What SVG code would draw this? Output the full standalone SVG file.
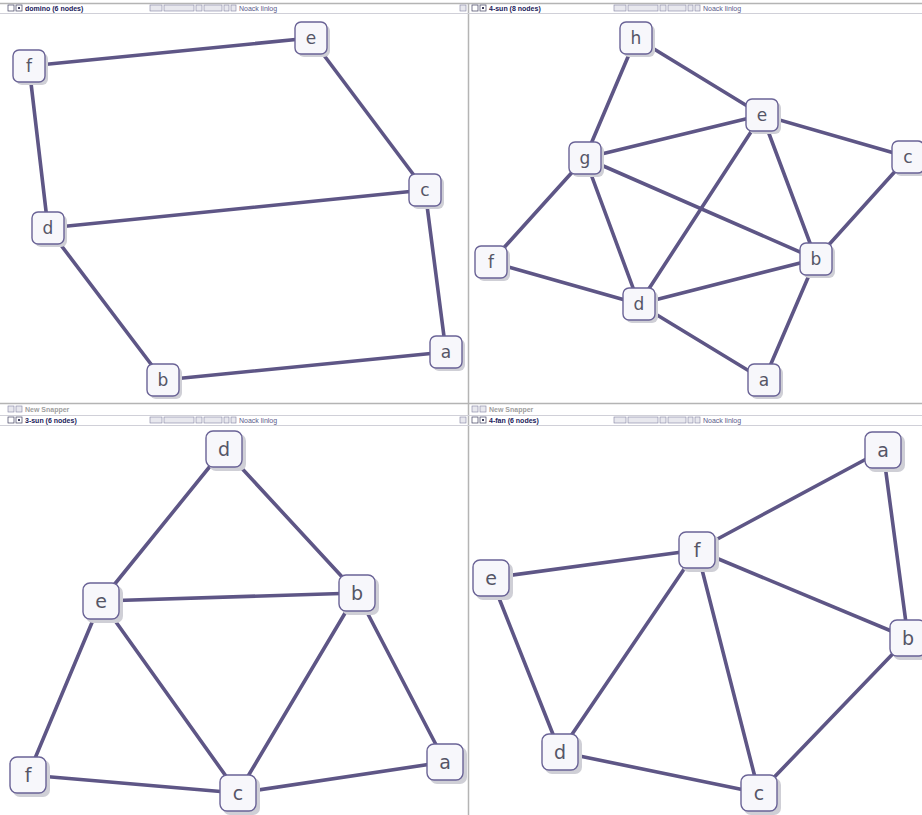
<svg xmlns="http://www.w3.org/2000/svg" width="922" height="815" viewBox="0 0 922 815">
<defs>
<style>
.bg{fill:#ffffff}
.sep{stroke:#b4b4b4;stroke-width:1.5;fill:none}
.title{font-family:"Liberation Sans",Arial,sans-serif;font-size:7px;font-weight:bold;fill:#1a1a5a}
.algo{font-family:"Liberation Sans",Arial,sans-serif;font-size:7px;fill:#5a5a8a}
.snap{font-family:"Liberation Sans",Arial,sans-serif;font-size:7px;font-weight:bold;fill:#a0a0a0}
.btn{fill:#e8e8ee;stroke:#8080a0;stroke-width:0.6}
.chk{fill:#ffffff;stroke:#404060;stroke-width:0.7}
.e{stroke:#5e5686;stroke-width:3.6;stroke-linecap:round;fill:none}
.sh{fill:#cfcfd6}
.nd{fill:#f7f7fb;stroke:#6a6396;stroke-width:1.4}
.lb{font-family:"DejaVu Sans","Liberation Sans",sans-serif;font-size:17px;fill:#555566;text-anchor:middle;dominant-baseline:central}
.lb2{font-family:"DejaVu Sans","Liberation Sans",sans-serif;font-size:19px;fill:#555566;text-anchor:middle;dominant-baseline:central}
</style>
<g id="n32">
<rect class="sh" x="-13" y="-13" width="32" height="32" rx="6"/>
<rect class="nd" x="-16" y="-16" width="32" height="32" rx="6"/>
</g>
<g id="n36">
<rect class="sh" x="-15" y="-15" width="37" height="37" rx="7"/>
<rect class="nd" x="-18" y="-18" width="36" height="36" rx="7"/>
</g>
</defs>
<rect class="bg" x="0" y="0" width="922" height="815"/>

<g id="chrome">
<line class="sep" x1="0" y1="3.5" x2="922" y2="3.5"/>
<line class="sep" x1="468.5" y1="3" x2="468.5" y2="815"/>
<line class="sep" x1="0" y1="403.5" x2="922" y2="403.5"/>
<line x1="0" y1="13.5" x2="922" y2="13.5" stroke="#d0d0d8" stroke-width="1"/>
<line x1="0" y1="425.5" x2="922" y2="425.5" stroke="#d0d0d8" stroke-width="1"/>
<line x1="0" y1="415.5" x2="922" y2="415.5" stroke="#d0d0d8" stroke-width="1"/>
<rect class="chk" x="8" y="5" width="6" height="6"/><rect class="chk" x="16" y="5" width="6" height="6"/><rect x="18" y="7" width="2" height="2" fill="#404060"/>
<text class="title" x="25" y="10.5">domino  (6 nodes)</text>
<rect class="btn" x="150" y="5" width="12" height="6"/><rect class="btn" x="164" y="5" width="30" height="6"/><rect class="btn" x="196" y="5" width="6" height="6"/><rect class="btn" x="204" y="5" width="18" height="6"/><rect class="btn" x="224" y="5" width="5" height="6" fill="#f4f4f4" stroke="#d0d0d0"/><rect class="btn" x="231" y="5" width="5" height="6" fill="#f4f4f4" stroke="#d0d0d0"/>
<text class="algo" x="239" y="10.5">Noack linlog</text>
<rect class="btn" x="460" y="5" width="6" height="6"/>
<rect class="chk" x="472" y="5" width="6" height="6"/><rect class="chk" x="480" y="5" width="6" height="6"/><rect x="482" y="7" width="2" height="2" fill="#404060"/>
<text class="title" x="489" y="10.5">4-sun  (8 nodes)</text>
<rect class="btn" x="614" y="5" width="12" height="6"/><rect class="btn" x="628" y="5" width="30" height="6"/><rect class="btn" x="660" y="5" width="6" height="6"/><rect class="btn" x="668" y="5" width="18" height="6"/><rect class="btn" x="688" y="5" width="5" height="6" fill="#f4f4f4" stroke="#d0d0d0"/><rect class="btn" x="695" y="5" width="5" height="6" fill="#f4f4f4" stroke="#d0d0d0"/>
<text class="algo" x="703" y="10.5">Noack linlog</text>
<rect class="btn" x="8" y="406" width="6" height="6" fill="#f4f4f4" stroke="#b0b0b0"/><rect class="btn" x="16" y="406" width="6" height="6" fill="#f4f4f4" stroke="#b0b0b0"/>
<text class="snap" x="25" y="411.5">New Snapper</text>
<rect class="btn" x="472" y="406" width="6" height="6" fill="#f4f4f4" stroke="#b0b0b0"/><rect class="btn" x="480" y="406" width="6" height="6" fill="#f4f4f4" stroke="#b0b0b0"/>
<text class="snap" x="489" y="411.5">New Snapper</text>
<rect class="chk" x="8" y="417" width="6" height="6"/><rect class="chk" x="16" y="417" width="6" height="6"/><rect x="18" y="419" width="2" height="2" fill="#404060"/>
<text class="title" x="25" y="422.5">3-sun  (6 nodes)</text>
<rect class="btn" x="150" y="417" width="12" height="6"/><rect class="btn" x="164" y="417" width="30" height="6"/><rect class="btn" x="196" y="417" width="6" height="6"/><rect class="btn" x="204" y="417" width="18" height="6"/><rect class="btn" x="224" y="417" width="5" height="6" fill="#f4f4f4" stroke="#d0d0d0"/><rect class="btn" x="231" y="417" width="5" height="6" fill="#f4f4f4" stroke="#d0d0d0"/>
<text class="algo" x="239" y="422.5">Noack linlog</text>
<rect class="btn" x="460" y="417" width="6" height="6"/>
<rect class="chk" x="472" y="417" width="6" height="6"/><rect class="chk" x="480" y="417" width="6" height="6"/><rect x="482" y="419" width="2" height="2" fill="#404060"/>
<text class="title" x="489" y="422.5">4-fan  (6 nodes)</text>
<rect class="btn" x="614" y="417" width="12" height="6"/><rect class="btn" x="628" y="417" width="30" height="6"/><rect class="btn" x="660" y="417" width="6" height="6"/><rect class="btn" x="668" y="417" width="18" height="6"/><rect class="btn" x="688" y="417" width="5" height="6" fill="#f4f4f4" stroke="#d0d0d0"/><rect class="btn" x="695" y="417" width="5" height="6" fill="#f4f4f4" stroke="#d0d0d0"/>
<text class="algo" x="703" y="422.5">Noack linlog</text>
</g>

<g id="connectors">
<line class="e" x1="29" y1="66" x2="311" y2="38" stroke-width="4.2"/>
<line class="e" x1="311" y1="38" x2="425" y2="190"/>
<line class="e" x1="29" y1="66" x2="48" y2="228"/>
<line class="e" x1="48" y1="228" x2="425" y2="190" stroke-width="4.2"/>
<line class="e" x1="48" y1="228" x2="163" y2="380"/>
<line class="e" x1="425" y1="190" x2="446" y2="352"/>
<line class="e" x1="163" y1="380" x2="446" y2="352" stroke-width="4.2"/>
<line class="e" x1="636" y1="38" x2="585" y2="158"/>
<line class="e" x1="636" y1="38" x2="762" y2="115"/>
<line class="e" x1="585" y1="158" x2="762" y2="115"/>
<line class="e" x1="762" y1="115" x2="908" y2="157"/>
<line class="e" x1="585" y1="158" x2="491" y2="262"/>
<line class="e" x1="585" y1="158" x2="816" y2="259"/>
<line class="e" x1="585" y1="158" x2="639" y2="304"/>
<line class="e" x1="762" y1="115" x2="639" y2="304"/>
<line class="e" x1="762" y1="115" x2="816" y2="259"/>
<line class="e" x1="908" y1="157" x2="816" y2="259"/>
<line class="e" x1="491" y1="262" x2="639" y2="304"/>
<line class="e" x1="639" y1="304" x2="816" y2="259"/>
<line class="e" x1="639" y1="304" x2="764" y2="380"/>
<line class="e" x1="816" y1="259" x2="764" y2="380"/>
<line class="e" x1="224" y1="449" x2="101" y2="601"/>
<line class="e" x1="224" y1="449" x2="357" y2="593" stroke-width="4.2"/>
<line class="e" x1="101" y1="601" x2="357" y2="593" stroke-width="4.2"/>
<line class="e" x1="101" y1="601" x2="28" y2="775"/>
<line class="e" x1="101" y1="601" x2="238" y2="793" stroke-width="4.2"/>
<line class="e" x1="357" y1="593" x2="238" y2="793" stroke-width="4.2"/>
<line class="e" x1="357" y1="593" x2="445" y2="762" stroke-width="4.2"/>
<line class="e" x1="28" y1="775" x2="238" y2="793" stroke-width="4.2"/>
<line class="e" x1="238" y1="793" x2="445" y2="762" stroke-width="4.2"/>
<line class="e" x1="883" y1="450" x2="697" y2="550"/>
<line class="e" x1="883" y1="450" x2="908" y2="638"/>
<line class="e" x1="491" y1="578" x2="697" y2="550"/>
<line class="e" x1="697" y1="550" x2="908" y2="638"/>
<line class="e" x1="697" y1="550" x2="560" y2="752"/>
<line class="e" x1="697" y1="550" x2="759" y2="793" stroke-width="4.2"/>
<line class="e" x1="491" y1="578" x2="560" y2="752"/>
<line class="e" x1="560" y1="752" x2="759" y2="793"/>
<line class="e" x1="759" y1="793" x2="908" y2="638" stroke-width="4.2"/>
</g>

<g id="domino-f"><use href="#n32" x="29" y="66"/><text class="lb" x="29" y="66">f</text></g>
<g id="domino-e"><use href="#n32" x="311" y="38"/><text class="lb" x="311" y="38">e</text></g>
<g id="domino-c"><use href="#n32" x="425" y="190"/><text class="lb" x="425" y="190">c</text></g>
<g id="domino-d"><use href="#n32" x="48" y="228"/><text class="lb" x="48" y="228">d</text></g>
<g id="domino-a"><use href="#n32" x="446" y="352"/><text class="lb" x="446" y="352">a</text></g>
<g id="domino-b"><use href="#n32" x="163" y="380"/><text class="lb" x="163" y="380">b</text></g>

<g id="sun4-h"><use href="#n32" x="636" y="38"/><text class="lb" x="636" y="38">h</text></g>
<g id="sun4-e"><use href="#n32" x="762" y="115"/><text class="lb" x="762" y="115">e</text></g>
<g id="sun4-c"><use href="#n32" x="908" y="157"/><text class="lb" x="908" y="157">c</text></g>
<g id="sun4-g"><use href="#n32" x="585" y="158"/><text class="lb" x="585" y="158">g</text></g>
<g id="sun4-f"><use href="#n32" x="491" y="262"/><text class="lb" x="491" y="262">f</text></g>
<g id="sun4-b"><use href="#n32" x="816" y="259"/><text class="lb" x="816" y="259">b</text></g>
<g id="sun4-d"><use href="#n32" x="639" y="304"/><text class="lb" x="639" y="304">d</text></g>
<g id="sun4-a"><use href="#n32" x="764" y="380"/><text class="lb" x="764" y="380">a</text></g>

<g id="sun3-d"><use href="#n36" x="224" y="449"/><text class="lb2" x="224" y="449">d</text></g>
<g id="sun3-e"><use href="#n36" x="101" y="601"/><text class="lb2" x="101" y="601">e</text></g>
<g id="sun3-b"><use href="#n36" x="357" y="593"/><text class="lb2" x="357" y="593">b</text></g>
<g id="sun3-f"><use href="#n36" x="28" y="775"/><text class="lb2" x="28" y="775">f</text></g>
<g id="sun3-c"><use href="#n36" x="238" y="793"/><text class="lb2" x="238" y="793">c</text></g>
<g id="sun3-a"><use href="#n36" x="445" y="762"/><text class="lb2" x="445" y="762">a</text></g>

<g id="fan4-a"><use href="#n36" x="883" y="450"/><text class="lb2" x="883" y="450">a</text></g>
<g id="fan4-f"><use href="#n36" x="697" y="550"/><text class="lb2" x="697" y="550">f</text></g>
<g id="fan4-e"><use href="#n36" x="491" y="578"/><text class="lb2" x="491" y="578">e</text></g>
<g id="fan4-b"><use href="#n36" x="908" y="638"/><text class="lb2" x="908" y="638">b</text></g>
<g id="fan4-d"><use href="#n36" x="560" y="752"/><text class="lb2" x="560" y="752">d</text></g>
<g id="fan4-c"><use href="#n36" x="759" y="793"/><text class="lb2" x="759" y="793">c</text></g>
</svg>
